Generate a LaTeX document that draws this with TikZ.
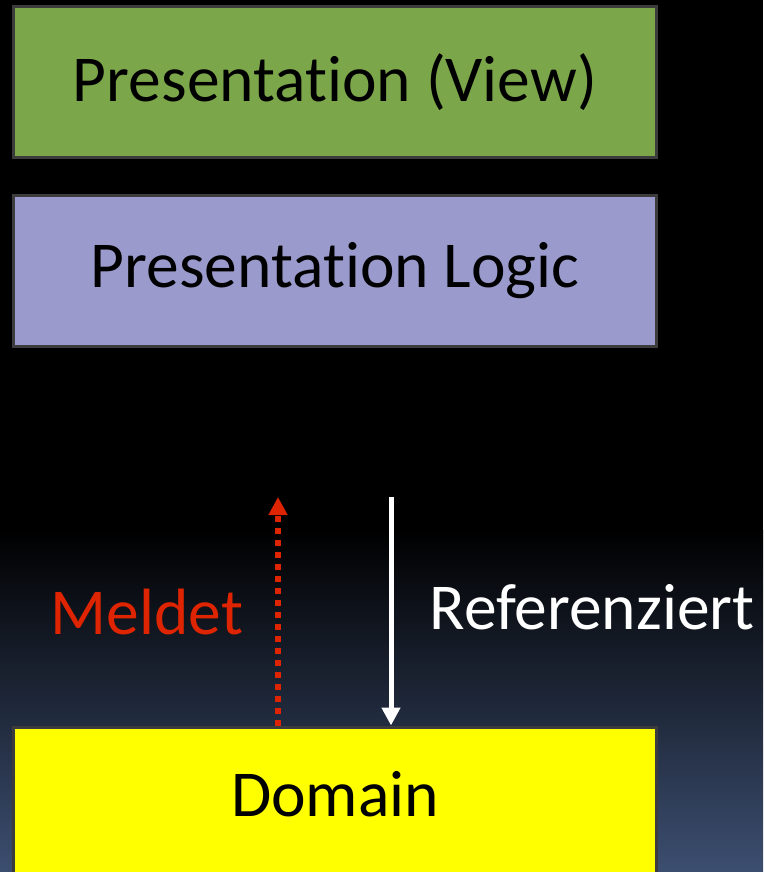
\documentclass[tikz,border=0pt]{standalone}
\usepackage{fontspec}
\setmainfont{Carlito}[Ligatures=NoCommon, RawFeature={-clig;-dlig;-calt}]
\usetikzlibrary{arrows.meta}
\definecolor{bgblue}{RGB}{60,78,112}
\definecolor{boxgreen}{RGB}{124,166,74}
\definecolor{boxpurple}{RGB}{154,154,204}
\definecolor{boxyellow}{RGB}{255,255,0}
\definecolor{boxedge}{RGB}{60,60,60}
\definecolor{redtxt}{RGB}{222,36,0}
\tikzset{
  layer/.style={draw=boxedge, line width=3pt, minimum width=643pt, minimum height=151pt, inner sep=0pt, font=\fontsize{65.5}{66}\selectfont, text=black},
  lbl/.style={font=\fontsize{65.5}{66}\selectfont, inner sep=0pt},
}
\begin{document}
\begin{tikzpicture}[x=1pt,y=-1pt]
\useasboundingbox (0,0) rectangle (763,872);
\fill[black] (0,0) rectangle (763,872);
\shade[top color=black, bottom color=bgblue] (0,530) rectangle (763,872);
\node[layer, fill=boxgreen] (view) at (335,82) {Presentat\kern0pt ion (View)};
\node[layer, fill=boxpurple] (logic) at (335,271) {Presentat\kern0pt ion Logic};
\node[layer, fill=boxyellow, minimum height=160pt, anchor=north] (domain) at (335,725.5) {\raisebox{26pt}{Domain}};
\coordinate (rtop) at (278,497);
\coordinate (wtop) at (391,497);
\draw[redtxt, line width=6pt, dash pattern=on 6pt off 6pt, -{Triangle[width=18pt,length=18pt]}] (domain.north -| rtop) -- (rtop);
\draw[white, line width=5pt, -{Triangle[width=18pt,length=18pt]}] (wtop) -- (domain.north -| wtop);
\node[lbl, text=redtxt] (meldet) at (147,612) {Meldet};
\node[lbl, text=white] (ref) at (592,607) {Referenziert};
\end{tikzpicture}
\end{document}
